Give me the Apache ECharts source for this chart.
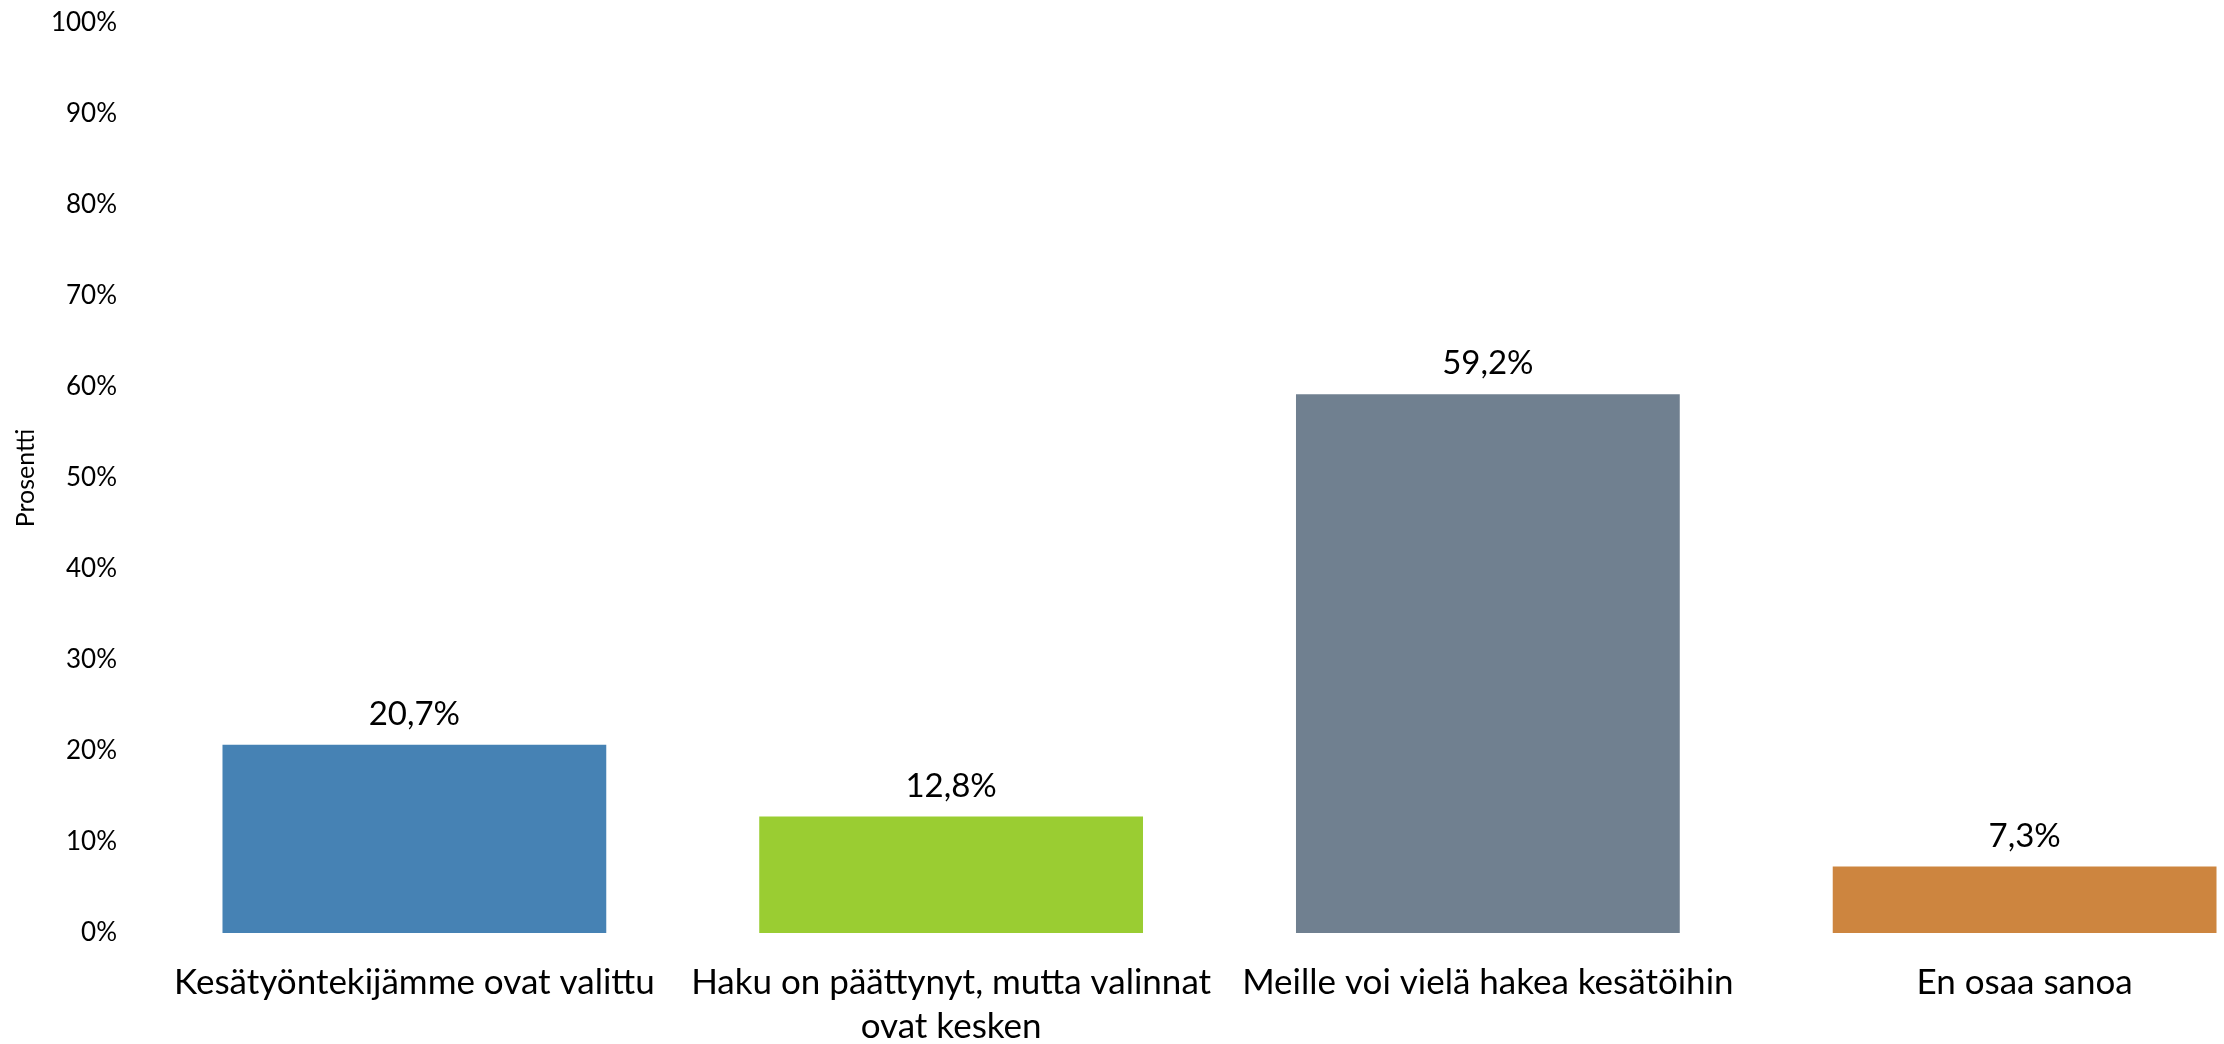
<!DOCTYPE html>
<html><head><meta charset="utf-8">
<script src="https://cdn.jsdelivr.net/npm/echarts@6/dist/echarts.min.js"></script>
<style>html,body{margin:0;padding:0;background:#fff}#c{width:2224px;height:1044px}</style>
</head><body><div id="c"></div>
<script>
const categories = ["Kesätyöntekijämme ovat valittu", "Haku on päättynyt, mutta valinnat\novat kesken", "Meille voi vielä hakea kesätöihin", "En osaa sanoa"];
const values = [20.7, 12.8, 59.2, 7.3];
const colors = ["#4682B4", "#9ACD32", "#708090", "#CD853F"];
const yTicks = [0, 10, 20, 30, 40, 50, 60, 70, 80, 90, 100];
const FONT = "Lato";
const chart = echarts.init(document.getElementById('c'));
chart.setOption({
  animation: false,
  grid: {left: 146, right: -69, top: 23, bottom: 111, containLabel: false, outerBoundsMode: 'none'},
  xAxis: {
    type: 'category', data: categories,
    axisLine: {show: false}, axisTick: {show: false},
    axisLabel: {color: '#000', fontFamily: FONT, fontSize: 35, margin: 28, lineHeight: 44, interval: 0}
  },
  yAxis: {
    type: 'value', min: yTicks[0], max: yTicks[yTicks.length - 1], interval: 10,
    name: 'Prosentti', nameLocation: 'middle', nameGap: 108,
    nameTextStyle: {color: '#000', fontFamily: FONT, fontSize: 25},
    axisLine: {show: false}, axisTick: {show: false}, splitLine: {show: false},
    axisLabel: {color: '#000', fontFamily: FONT, fontSize: 26, margin: 29, formatter: '{value}%'}
  },
  series: [{
    type: 'bar', barWidth: '71.5%',
    data: values.map((v, i) => ({value: v, itemStyle: {color: colors[i]}})),
    label: {show: true, position: 'top', distance: 14, color: '#000', fontFamily: FONT, fontSize: 33,
      formatter: p => p.value.toFixed(1).replace('.', ',') + '%'}
  }]
});
</script></body></html>
